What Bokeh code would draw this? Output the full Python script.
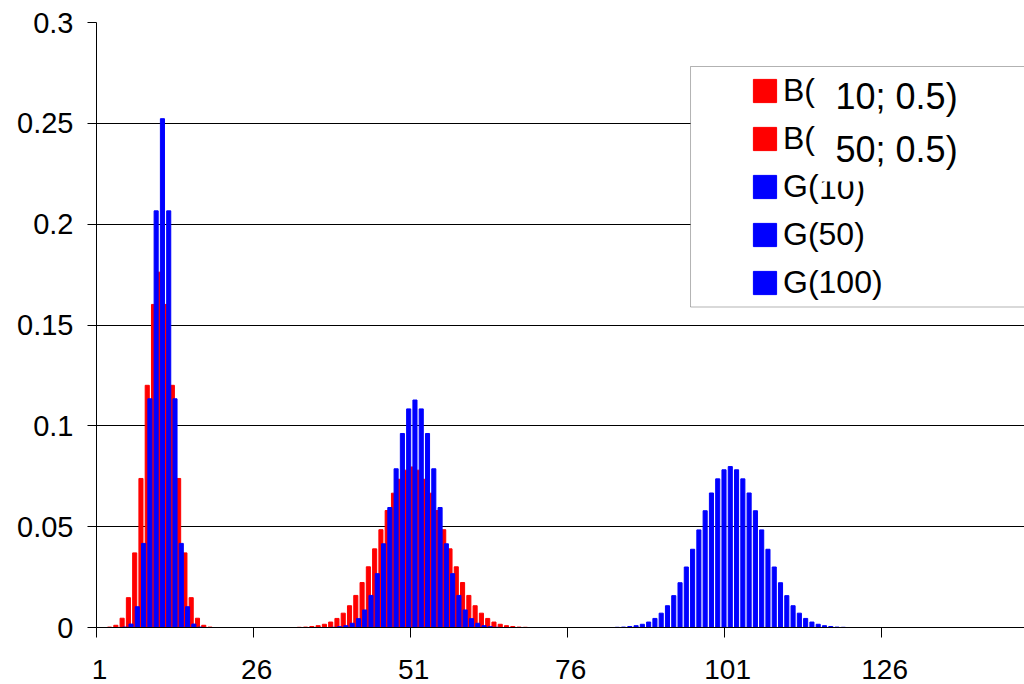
from bokeh.plotting import figure
from bokeh.models import (FixedTicker, Legend, LegendItem, Label,
                          BoxAnnotation, ColumnDataSource, Range1d)
from bokeh.transform import dodge
from bokeh.embed import file_html
from bokeh.resources import INLINE

# ---- data ----
series_labels = ["B(", "B(", "G(", "G(50)", "G(100)"]
overlay_texts = ["10; 0.5)", "50; 0.5)", "10)"]
series_colors = ["#FF0000", "#FF0000", "#0000FF", "#0000FF", "#0000FF"]

b10_first = 3
b10 = [0.0002, 0.0011, 0.0046, 0.0148, 0.0370, 0.0739, 0.1201, 0.1602, 0.1762,
       0.1602, 0.1201, 0.0739, 0.0370, 0.0148, 0.0046, 0.0011, 0.0002]

b50_first = 33
b50 = [0.0001, 0.0002, 0.0005, 0.0009, 0.0016, 0.0027, 0.0045, 0.0071, 0.0108,
       0.0159, 0.0223, 0.0301, 0.0390, 0.0485, 0.0580, 0.0666, 0.0735, 0.0780,
       0.0796,
       0.0780, 0.0735, 0.0666, 0.0580, 0.0485, 0.0390, 0.0301, 0.0223, 0.0159,
       0.0108, 0.0071, 0.0045, 0.0027, 0.0016, 0.0009, 0.0005, 0.0002, 0.0001]

g10_first = 5
g10 = [0.0002, 0.0017, 0.0103, 0.0417, 0.1134, 0.2066, 0.2523,
       0.2066, 0.1134, 0.0417, 0.0103, 0.0017, 0.0002]

g50_first = 38
g50 = [0.0001, 0.0004, 0.0009, 0.0021, 0.0044, 0.0087, 0.0159, 0.0267, 0.0415,
       0.0595, 0.0787, 0.0962, 0.1084, 0.1128,
       0.1084, 0.0962, 0.0787, 0.0595, 0.0415, 0.0267, 0.0159, 0.0087, 0.0044,
       0.0021, 0.0009, 0.0004, 0.0001]

g100_first = 83
g100 = [0.0001, 0.0002, 0.0005, 0.0009, 0.0016, 0.0027, 0.0045, 0.0071, 0.0108,
        0.0158, 0.0222, 0.0300, 0.0388, 0.0484, 0.0579, 0.0667, 0.0737, 0.0782,
        0.0798,
        0.0782, 0.0737, 0.0667, 0.0579, 0.0484, 0.0388, 0.0300, 0.0222, 0.0158,
        0.0108, 0.0071, 0.0045, 0.0027, 0.0016, 0.0009, 0.0005, 0.0002, 0.0001]

y_ticks = [0, 0.05, 0.1, 0.15, 0.2, 0.25, 0.3]
y_tick_labels = ["0", "0.05", "0.1", "0.15", "0.2", "0.25", "0.3"]
x_label_cats = [1, 26, 51, 76, 101, 126]
x_tick_bounds = [0.5, 25.5, 50.5, 75.5, 100.5, 125.5]

FONT = "Liberation Sans"

p = figure(width=1024, height=684, output_backend="svg", toolbar_location=None,
           x_range=Range1d(0.5, 148.27), y_range=Range1d(0, 0.3),
           min_border_left=96, min_border_right=0, min_border_top=22,
           min_border_bottom=57)
p.outline_line_color = None
p.background_fill_color = "white"
p.border_fill_color = "white"

series = [(b10_first, b10), (b50_first, b50), (g10_first, g10),
          (g50_first, g50), (g100_first, g100)]
step = 0.21
bar_w = 0.65
renderers = []
for i, (first, vals) in enumerate(series):
    cats = list(range(first, first + len(vals)))
    src = ColumnDataSource(dict(cat=cats, val=vals))
    r = p.vbar(x=dodge("cat", (i - 2) * step), top="val", bottom=0, width=bar_w,
               source=src, fill_color=series_colors[i], line_color=series_colors[i],
               line_width=1)
    renderers.append(r)

# y axis
ya = p.yaxis[0]
ya.ticker = FixedTicker(ticks=y_ticks)
ya.major_label_overrides = {t: l for t, l in zip(y_ticks, y_tick_labels)}
ya.major_tick_out = 9
ya.major_tick_in = 0
ya.minor_tick_line_color = None
ya.axis_line_color = "black"
ya.major_tick_line_color = "black"
ya.major_label_text_font = FONT
ya.major_label_text_font_size = "29px"
ya.major_label_text_color = "black"
ya.major_label_standoff = 14

p.ygrid.ticker = FixedTicker(ticks=y_ticks)
p.ygrid.grid_line_color = "black"
p.ygrid.grid_line_width = 1
p.xgrid.grid_line_color = None

# x axis: labels centred on categories, tick marks at category boundaries
xa = p.xaxis[0]
xa.ticker = FixedTicker(ticks=x_label_cats, minor_ticks=x_tick_bounds)
xa.major_tick_line_color = None
xa.major_tick_out = 0
xa.major_tick_in = 0
xa.minor_tick_line_color = "black"
xa.minor_tick_out = 10
xa.minor_tick_in = 0
xa.axis_line_color = "black"
xa.major_label_text_font = FONT
xa.major_label_text_font_size = "28px"
xa.major_label_text_color = "black"
xa.major_label_standoff = 22

# legend frame
box = BoxAnnotation(left=95.09, right=200, top=0.27818, bottom=0.15892,
                    fill_color="white", fill_alpha=1, line_color="black",
                    line_width=1)
p.add_layout(box)

items = [LegendItem(label=series_labels[i], renderers=[renderers[i]]) for i in range(5)]
legend = Legend(items=items, location=(654, 326), orientation="vertical",
                glyph_width=29, glyph_height=29, label_standoff=4,
                spacing=11, padding=0, margin=0,
                label_text_font=FONT, label_text_font_size="32px",
                label_text_color="black",
                border_line_color=None, background_fill_alpha=0)
p.add_layout(legend, "center")

# rest of the third legend label, partly hidden by the white patch below
lab3 = Label(x=115.55, y=0.21793, text=overlay_texts[2], text_font=FONT,
             text_font_size="32px", text_color="black", text_baseline="middle")
p.add_layout(lab3)

# white patch that hides the top of the third legend label, as in the source
cover = BoxAnnotation(left=114.99, right=140.5, top=0.24892, bottom=0.22115,
                      fill_color="white", fill_alpha=1, line_color=None,
                      level="overlay")
p.add_layout(cover)

lab1 = Label(x=118.18, y=0.26316, text=overlay_texts[0], text_font=FONT,
             text_font_size="36px", text_color="black", text_baseline="alphabetic",
             level="overlay")
lab2 = Label(x=118.18, y=0.23717, text=overlay_texts[1], text_font=FONT,
             text_font_size="36px", text_color="black", text_baseline="alphabetic",
             level="overlay")
p.add_layout(lab1)
p.add_layout(lab2)

open("out.html", "w").write(file_html(p, INLINE))
